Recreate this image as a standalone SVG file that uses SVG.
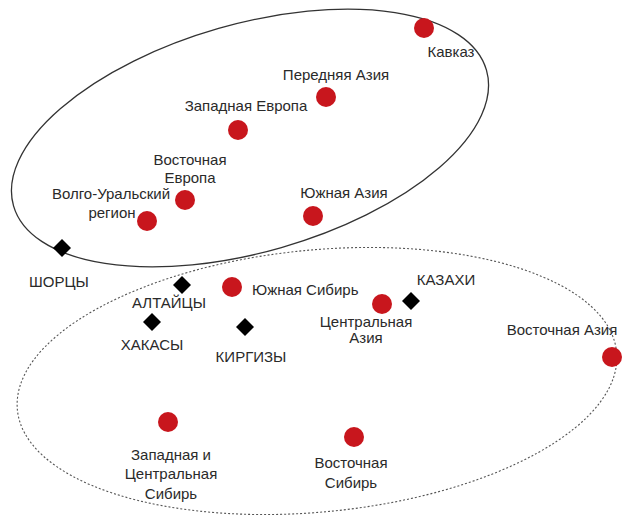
<svg xmlns="http://www.w3.org/2000/svg" width="628" height="520" viewBox="0 0 628 520">
<style>
.t{font-family:"Liberation Sans",Arial,sans-serif;font-size:15px;fill:#2a2a2a;text-anchor:middle}
.l{text-anchor:start}
.dot{fill:#c8161d}
.dm{fill:#000}
.solid{fill:none;stroke:#333;stroke-width:1.3}
.dash{fill:none;stroke:#555;stroke-width:1.1;stroke-dasharray:2 2}
</style>
<rect width="628" height="520" fill="#fff"/>
<g id="groups">
<ellipse class="solid" cx="250" cy="138" rx="246" ry="114" transform="rotate(-16 250 138)"/>
<ellipse class="dash" cx="317" cy="381" rx="301" ry="131" transform="rotate(-5.5 317 381)"/>
</g>
<g id="kavkaz"><circle class="dot" cx="424" cy="28" r="10"/><text class="t" x="451" y="57">Кавказ</text></g>
<g id="perednyaya"><circle class="dot" cx="326" cy="97" r="10"/><text class="t" x="336" y="80">Передняя Азия</text></g>
<g id="zapevropa"><circle class="dot" cx="238" cy="130" r="10"/><text class="t" x="246" y="111">Западная Европа</text></g>
<g id="vostevropa"><circle class="dot" cx="185" cy="200" r="10"/><text class="t" x="190" y="165">Восточная</text><text class="t" x="190" y="183">Европа</text></g>
<g id="volgoural"><circle class="dot" cx="147" cy="221" r="10"/><text class="t" x="111" y="199">Волго-Уральский</text><text class="t" x="112" y="218">регион</text></g>
<g id="yuzhazia"><circle class="dot" cx="313" cy="216" r="10"/><text class="t" x="344" y="198">Южная Азия</text></g>
<g id="yuzhsibir"><circle class="dot" cx="232" cy="287" r="10"/><text class="t l" x="252" y="295">Южная Сибирь</text></g>
<g id="centrazia"><circle class="dot" cx="382" cy="304" r="10"/><text class="t" x="366" y="327">Центральная</text><text class="t" x="366" y="343">Азия</text></g>
<g id="vostazia"><circle class="dot" cx="612" cy="357" r="10"/><text class="t" x="562" y="335">Восточная Азия</text></g>
<g id="zapsibir"><circle class="dot" cx="168" cy="422" r="10"/><text class="t" x="171" y="460">Западная и</text><text class="t" x="171" y="479">Центральная</text><text class="t" x="171" y="499">Сибирь</text></g>
<g id="vostsibir"><circle class="dot" cx="354" cy="437" r="10"/><text class="t" x="351" y="468">Восточная</text><text class="t" x="351" y="488">Сибирь</text></g>
<g id="shorcy"><path class="dm" d="M62 239 L71 248 L62 257 L53 248Z"/><text class="t" x="59" y="287">ШОРЦЫ</text></g>
<g id="altaicy"><path class="dm" d="M182 276 L191 285 L182 294 L173 285Z"/><text class="t" x="169" y="308">АЛТАЙЦЫ</text></g>
<g id="hakasy"><path class="dm" d="M152 313 L161 322 L152 331 L143 322Z"/><text class="t" x="152" y="350">ХАКАСЫ</text></g>
<g id="kirgizy"><path class="dm" d="M245 318 L254 327 L245 336 L236 327Z"/><text class="t" x="251" y="362">КИРГИЗЫ</text></g>
<g id="kazahi"><path class="dm" d="M411 292 L420 301 L411 310 L402 301Z"/><text class="t" x="446" y="285">КАЗАХИ</text></g>
<g id="connectors"/>
</svg>
